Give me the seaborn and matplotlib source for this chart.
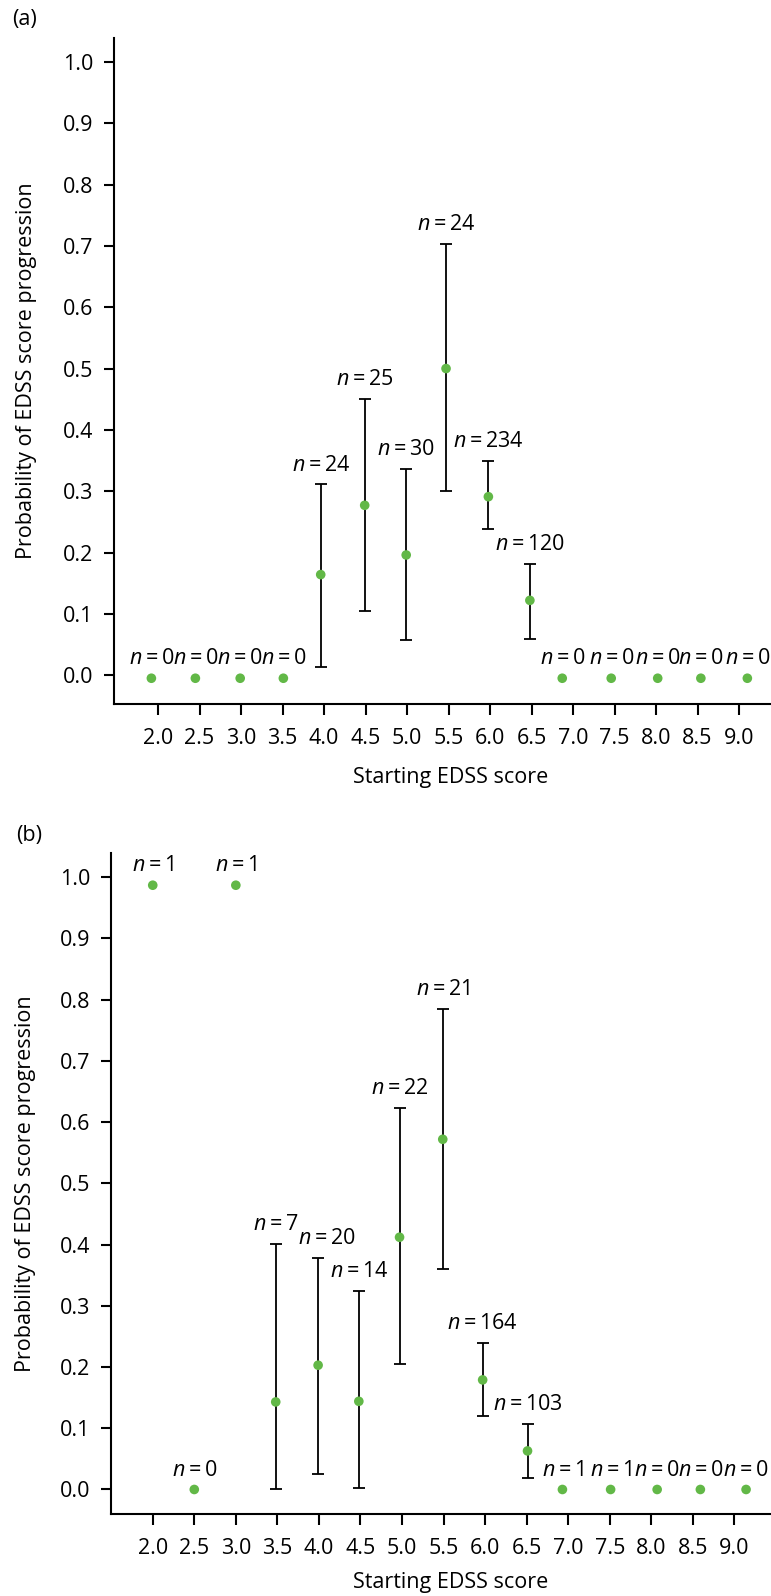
"""
Probabilidad de progresión EDSS según la puntuación EDSS inicial.
Dos paneles (a) y (b): punto estimado, intervalo y tamaño de muestra n.
"""

import numpy as np
import seaborn as sns
from matplotlib import pyplot as plt

# --- datos ---
edss_ticks = [2.0, 2.5, 3.0, 3.5, 4.0, 4.5, 5.0, 5.5, 6.0, 6.5, 7.0, 7.5, 8.0, 8.5, 9.0]
edss_labels = ["2.0", "2.5", "3.0", "3.5", "4.0", "4.5", "5.0", "5.5", "6.0", "6.5", "7.0", "7.5", "8.0", "8.5", "9.0"]
prob_ticks = [0.0, 0.1, 0.2, 0.3, 0.4, 0.5, 0.6, 0.7, 0.8, 0.9, 1.0]

nan = np.nan

# panel (a)
a_x = [1.92, 2.45, 2.99, 3.51, 3.96, 4.49, 4.99, 5.47, 5.98, 6.48, 6.87, 7.46, 8.02, 8.54, 9.10]
a_prob = [-0.005, -0.005, -0.005, -0.005, 0.164, 0.277, 0.196, 0.50, 0.291, 0.122, -0.005, -0.005, -0.005, -0.005, -0.005]
a_low = [nan, nan, nan, nan, 0.013, 0.104, 0.057, 0.300, 0.238, 0.059, nan, nan, nan, nan, nan]
a_high = [nan, nan, nan, nan, 0.311, 0.450, 0.336, 0.703, 0.350, 0.182, nan, nan, nan, nan, nan]
a_n = [0, 0, 0, 0, 24, 25, 30, 24, 234, 120, 0, 0, 0, 0, 0]

# panel (b)
b_x = [2.00, 2.50, 3.00, 3.48, 3.99, 4.48, 4.97, 5.49, 5.97, 6.51, 6.93, 7.51, 8.07, 8.59, 9.14]
b_prob = [0.987, 0.0, 0.987, 0.143, 0.203, 0.144, 0.412, 0.572, 0.179, 0.063, 0.0, 0.0, 0.0, 0.0, 0.0]
b_low = [nan, nan, nan, 0.0, 0.026, 0.002, 0.205, 0.360, 0.120, 0.018, nan, nan, nan, nan, nan]
b_high = [nan, nan, nan, 0.401, 0.378, 0.325, 0.623, 0.785, 0.240, 0.107, nan, nan, nan, nan, nan]
b_n = [1, 0, 1, 7, 20, 14, 22, 21, 164, 103, 1, 1, 0, 0, 0]

VERDE = "#62b847"
FS = 15.5


def dibujar_panel(ax, x, prob, low, high, n, xlim, ylim, empujes=None):
	x = np.asarray(x)
	prob = np.asarray(prob)
	low = np.asarray(low)
	high = np.asarray(high)
	empujes = empujes or {}

	# intervalos (solo donde existen)
	con_ic = ~np.isnan(low)
	ax.errorbar(
		x[con_ic], prob[con_ic],
		yerr=[prob[con_ic] - low[con_ic], high[con_ic] - prob[con_ic]],
		fmt="none", ecolor="black", elinewidth=1.3, capsize=4, capthick=1.3, zorder=2,
	)
	sns.scatterplot(x=x, y=prob, color=VERDE, s=48, edgecolor="none", ax=ax, zorder=3)

	# etiquetas n=...  (mathtext separa el "=" como en el original)
	for i, (xi, pi, hi, ni) in enumerate(zip(x, prob, high, n)):
		ancla = pi if np.isnan(hi) else hi
		ax.annotate(
			f"$n={ni}$", xy=(xi, ancla), xytext=(empujes.get(i, 0), 14), textcoords="offset points",
			ha="center", va="center", fontsize=FS, color="black",
		)

	ax.set_xlim(*xlim)
	ax.set_ylim(*ylim)
	ax.set_xticks(edss_ticks)
	ax.set_xticklabels(edss_labels)
	ax.set_yticks(prob_ticks)
	ax.set_yticklabels([f"{v:.1f}" for v in prob_ticks])
	ax.tick_params(axis="both", labelsize=FS, width=1.5, direction="out", color="black", labelcolor="black")
	ax.tick_params(axis="y", length=7, pad=8)
	ax.tick_params(axis="x", length=8, pad=9)
	for lado in ["left", "bottom"]:
		ax.spines[lado].set_linewidth(1.5)
		ax.spines[lado].set_color("black")
	sns.despine(ax=ax)
	ax.set_xlabel("Starting EDSS score", fontsize=FS, color="black")
	ax.set_ylabel("Probability of EDSS score progression", fontsize=FS, color="black")


def main():
	sns.set_style("ticks")
	plt.rcParams["font.family"] = ["Open Sans", "DejaVu Sans"]
	plt.rcParams["mathtext.fontset"] = "custom"
	plt.rcParams["mathtext.it"] = "Open Sans:italic"
	plt.rcParams["mathtext.rm"] = "Open Sans"
	plt.rcParams["text.color"] = "black"

	fig = plt.figure(figsize=(7.71, 15.96), dpi=100)
	ax_a = fig.add_axes([0.1479, 0.5589, 0.8521, 0.4173])
	ax_b = fig.add_axes([0.1440, 0.0514, 0.8560, 0.4139])

	dibujar_panel(ax_a, a_x, a_prob, a_low, a_high, a_n, (1.47, 9.385), (-0.047, 1.039))
	# la etiqueta n=20 va algo desplazada a la derecha en el original
	dibujar_panel(ax_b, b_x, b_prob, b_low, b_high, b_n, (1.498, 9.44), (-0.040, 1.039), empujes={4: 6})

	ax_a.yaxis.set_label_coords(-0.118, 0.5)
	ax_b.yaxis.set_label_coords(-0.113, 0.5)
	ax_a.xaxis.set_label_coords(0.513, -0.094)
	ax_b.xaxis.set_label_coords(0.515, -0.088)

	fig.text(12 / 771, 1 - 20 / 1596, "(a)", fontsize=FS, ha="left", va="center")
	fig.text(16 / 771, 1 - 836 / 1596, "(b)", fontsize=FS, ha="left", va="center")

	fig.savefig("out.png", dpi=100)


if __name__ == "__main__":
	main()
